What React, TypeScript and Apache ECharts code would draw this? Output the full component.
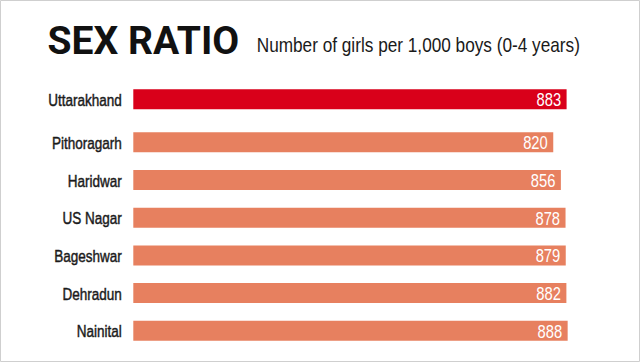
import React, { useEffect, useRef } from "react";
import * as echarts from "echarts";

const stateNames = ["Uttarakhand"];
const stateValues = [883];
const districtNames = ["Pithoragarh", "Haridwar", "US Nagar", "Bageshwar", "Dehradun", "Nainital"];
const districtValues = [820, 856, 878, 879, 882, 888];

const TITLE = "SEX RATIO";
const SUBTITLE = "Number of girls per 1,000 boys (0-4 years)";

// Liberation Sans horizontally condensed to imitate a narrow typeface
const SANS = "'Liberation Sans', Arial, sans-serif";
const AXIS_MIN = -1163;
const AXIS_MAX = 900;
const BAR_H = 20;

function barRenderer(color: string, names: string[]) {
  return (params: any, api: any) => {
    const v = api.value(0);
    const c = api.value(1);
    const end = api.coord([v, c]);
    const start = api.coord([AXIS_MIN, c]);
    return {
      type: "group",
      children: [
        {
          type: "rect",
          shape: { x: start[0], y: end[1] - BAR_H / 2, width: end[0] - start[0], height: BAR_H },
          style: { fill: color },
        },
        {
          type: "text",
          x: end[0] - 5.5,
          y: end[1] + 0.5,
          scaleX: 0.82,
          style: {
            text: String(v),
            fill: "#ffffff",
            fontSize: 18,
            fontFamily: SANS,
            align: "right",
            verticalAlign: "middle",
          },
        },
        {
          type: "text",
          x: start[0] - 11.5,
          y: end[1] + 0.5,
          scaleX: 0.82,
          style: {
            text: names[c],
            fill: "#1b1b1b",
            stroke: "#1b1b1b",
            lineWidth: 0.45,
            fontSize: 16.5,
            fontFamily: SANS,
            align: "right",
            verticalAlign: "middle",
          },
        },
      ],
    };
  };
}

export default function App() {
  const ref = useRef<HTMLDivElement>(null);
  useEffect(() => {
    if (!ref.current) return;
    const chart = echarts.init(ref.current, null, { renderer: "svg" });
    const yAxisCommon = {
      type: "category" as const,
      inverse: true,
      axisLine: { show: false },
      axisTick: { show: false },
      splitLine: { show: false },
      axisLabel: { show: false },
    };
    const xAxisCommon = { type: "value" as const, min: AXIS_MIN, max: AXIS_MAX, show: false };
    chart.setOption({
      animation: false,
      backgroundColor: "#ffffff",
      grid: [
        { left: 133.3, right: 69.8, top: 80.45, height: 37.7 },
        { left: 133.3, right: 69.8, top: 123.46, height: 226.2 },
      ],
      xAxis: [
        { ...xAxisCommon, gridIndex: 0 },
        { ...xAxisCommon, gridIndex: 1 },
      ],
      yAxis: [
        { ...yAxisCommon, gridIndex: 0, data: stateNames },
        { ...yAxisCommon, gridIndex: 1, data: districtNames },
      ],
      series: [
        {
          type: "custom",
          xAxisIndex: 0,
          yAxisIndex: 0,
          clip: false,
          encode: { x: 0, y: 1 },
          data: stateValues.map((v, i) => [v, stateNames[i]]),
          renderItem: barRenderer("#d9001a", stateNames),
        },
        {
          type: "custom",
          xAxisIndex: 1,
          yAxisIndex: 1,
          clip: false,
          encode: { x: 0, y: 1 },
          data: districtValues.map((v, i) => [v, districtNames[i]]),
          renderItem: barRenderer("#e7805f", districtNames),
        },
      ],
      graphic: [
        {
          type: "rect",
          shape: { x: 0.5, y: 0.5, width: 639, height: 361 },
          style: { fill: "none", stroke: "#cfcfcf", lineWidth: 1 },
        },
        {
          type: "text",
          x: 47.5,
          y: 41.4,
          style: {
            text: TITLE,
            fill: "#111111",
            fontSize: 39,
            fontWeight: "bold",
            fontFamily: "Roboto, 'Liberation Sans', sans-serif",
            verticalAlign: "middle",
          },
        },
        {
          type: "text",
          x: 256.7,
          y: 44.5,
          scaleX: 0.82,
          style: {
            text: SUBTITLE,
            fill: "#1a1a1a",
            fontSize: 21,
            fontFamily: SANS,
            verticalAlign: "middle",
          },
        },
      ],
    });
    return () => chart.dispose();
  }, []);
  return (
    <div
      ref={ref}
      style={{ position: "absolute", left: 0, top: 0, width: 640, height: 362 }}
    />
  );
}
